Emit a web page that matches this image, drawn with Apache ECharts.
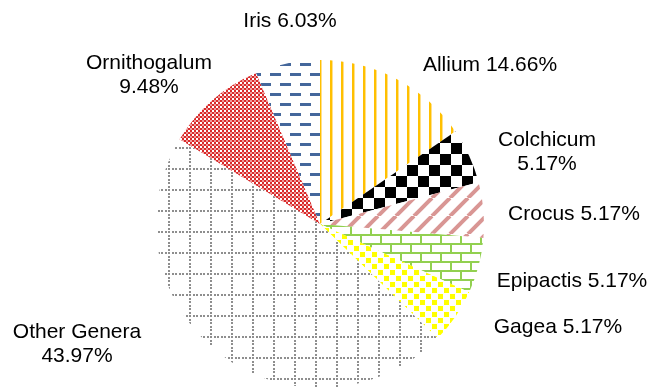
<!DOCTYPE html>
<html>
<head>
<meta charset="utf-8">
<style>
  html, body { margin: 0; padding: 0; background: #fff; }
  #chart { width: 650px; height: 388px; }
</style>
<script src="https://cdn.jsdelivr.net/npm/echarts@6/dist/echarts.min.js"></script>
</head>
<body>
<div id="chart"></div>
<script>
// slices clockwise from 12 o'clock
const genera = ['Allium', 'Colchicum', 'Crocus', 'Epipactis', 'Gagea', 'Other Genera', 'Ornithogalum', 'Iris']
const speciesCount = [17, 6, 6, 6, 6, 51, 11, 7]
const percentText = ['14.66%', '5.17%', '5.17%', '5.17%', '5.17%', '43.97%', '9.48%', '6.03%']
const wrapped = ['Colchicum', 'Other Genera', 'Ornithogalum']

// where each label sits (centre of text block)
const labelSpots = [[490, 65], [547, 152], [574, 214], [572, 281], [558, 327], [77, 344], [149, 75], [290, 21]]

function tile(w, h, draw) {
  const c = document.createElement('canvas')
  c.width = w
  c.height = h
  const ctx = c.getContext('2d')
  ctx.fillStyle = '#fff'
  ctx.fillRect(0, 0, w, h)
  draw(ctx, w, h)
  return { image: c, repeat: 'repeat' }
}

const patterns = {
  Allium: tile(11, 11, ctx => {
    ctx.fillStyle = '#FFC000'
    ctx.fillRect(0, 0, 2, 11)
    ctx.fillStyle = '#FFE08A'
    ctx.fillRect(2, 0, 1, 11)
  }),
  Colchicum: tile(22, 22, ctx => {
    ctx.fillStyle = '#000'
    ctx.fillRect(0, 0, 11, 11)
    ctx.fillRect(11, 11, 11, 11)
  }),
  Crocus: tile(18, 18, (ctx, s) => {
    ctx.strokeStyle = '#D99694'
    ctx.lineWidth = 4
    for (let k = -1; k <= 1; k++) {
      ctx.beginPath()
      ctx.moveTo(k * s, s)
      ctx.lineTo(k * s + s, 0)
      ctx.stroke()
    }
  }),
  Epipactis: tile(20, 18, ctx => {
    ctx.fillStyle = '#92D050'
    ctx.fillRect(0, 0, 20, 2)
    ctx.fillRect(0, 9, 20, 2)
    ctx.fillRect(0, 0, 2, 9)
    ctx.fillRect(10, 9, 2, 9)
  }),
  Gagea: tile(12, 12, ctx => {
    ctx.fillStyle = '#FFFF00'
    ctx.fillRect(0, 0, 5, 5)
    ctx.fillRect(6, 6, 5, 5)
  }),
  'Other Genera': tile(21, 21, ctx => {
    ctx.fillStyle = '#8E8E8E'
    ;[0, 4, 7, 11, 14, 18].forEach(p => {
      ctx.fillRect(p, 0, 2, 2)
      ctx.fillRect(0, p, 2, 2)
    })
  }),
  Ornithogalum: tile(4, 4, ctx => {
    ctx.fillStyle = '#D92B2B'
    ctx.fillRect(0, 0, 2, 2)
    ctx.fillRect(2, 2, 2, 2)
    ctx.fillStyle = '#EE9A9A'
    ctx.fillRect(2, 0, 2, 2)
  }),
  Iris: tile(20, 20, ctx => {
    ctx.fillStyle = '#44679B'
    ctx.fillRect(0, 3, 11, 3)
    ctx.fillRect(10, 13, 10, 3)
    ctx.fillRect(0, 13, 1, 3)
  })
}

const chart = echarts.init(document.getElementById('chart'))

chart.setOption({
  animation: false,
  series: [{
    type: 'pie',
    center: [320, 224],
    radius: 164,
    startAngle: 90,
    clockwise: true,
    avoidLabelOverlap: false,
    emphasis: { disabled: true },
    itemStyle: { borderWidth: 0 },
    label: {
      show: true,
      position: 'outside',
      color: '#000',
      fontFamily: 'Liberation Sans, Arial, sans-serif',
      fontSize: 21,
      lineHeight: 24,
      align: 'center',
      formatter: p => p.name + (wrapped.includes(p.name) ? '\n' : ' ') + percentText[p.dataIndex]
    },
    labelLine: { show: false },
    labelLayout: p => ({
      x: labelSpots[p.dataIndex][0],
      y: labelSpots[p.dataIndex][1],
      align: 'center',
      verticalAlign: 'middle'
    }),
    data: genera.map((g, i) => ({
      name: g,
      value: speciesCount[i],
      itemStyle: { color: patterns[g] }
    }))
  }]
})
</script>
</body>
</html>
